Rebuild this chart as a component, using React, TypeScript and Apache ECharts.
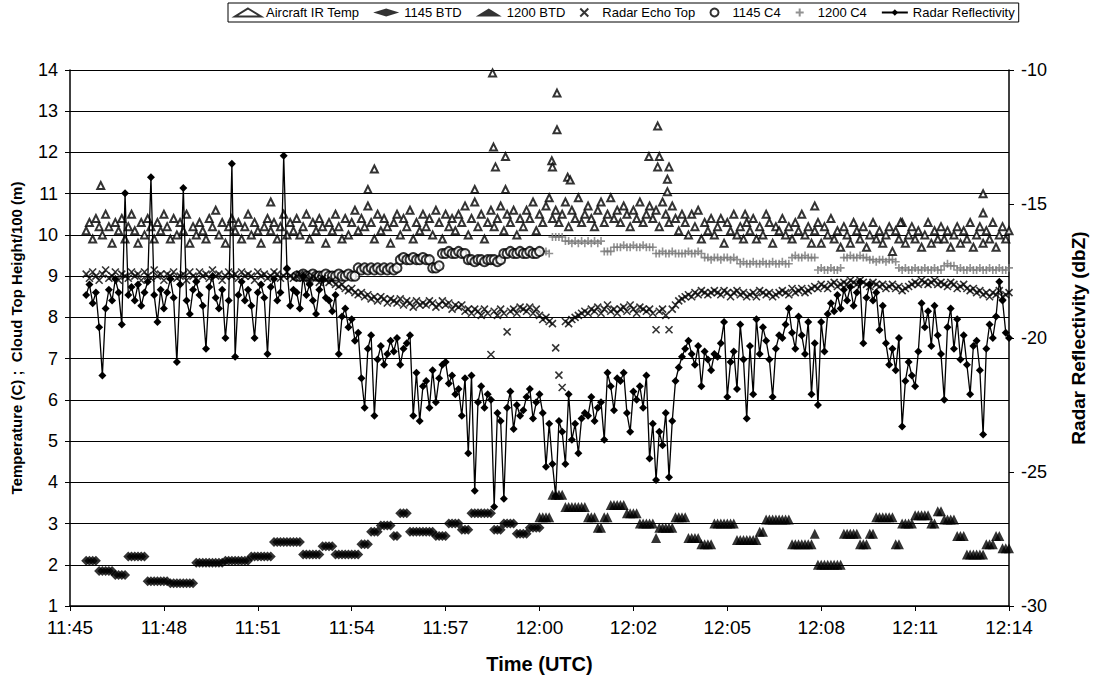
import React, { useEffect, useRef } from "react";
import * as echarts from "echarts";

// time in minutes after 11:45 UTC, sampled every STEP minutes
const STEP = 0.1;

// Radar Reflectivity (dbZ), from t = 0.5
const REFL_START = 0.5;
const REFLECTIVITY = [
  -18.4, -18.0, -18.7, -18.3, -19.6,
  -21.4, -18.9, -18.2, -18.6, -17.8, -18.3, -19.5, -14.6, -18.4, -18.1,
  -18.6, -18.0, -18.8, -18.3, -17.9, -14.0, -18.4, -19.4, -18.2, -18.9,
  -18.3, -17.8, -18.5, -20.9, -18.0, -14.4, -18.6, -19.1, -18.2, -17.9,
  -18.4, -18.8, -20.4, -18.1, -17.7, -18.5, -18.9, -18.2, -20.0, -18.6,
  -13.5, -20.7, -18.4, -17.9, -18.6, -18.2, -18.8, -20.0, -18.3, -18.0,
  -18.5, -20.6, -18.1, -17.8, -18.6, -18.3, -13.2, -17.4, -18.8, -18.2,
  -18.3, -18.9, -17.7, -18.4, -18.0, -18.6, -19.1, -18.2, -17.8, -18.5,
  -18.6, -19.0, -18.4, -20.6, -19.2, -18.9, -19.6, -19.3, -20.1, -19.8,
  -21.5, -22.6, -20.4, -19.9, -22.9, -20.8, -20.3, -21.0, -20.6, -20.1,
  -20.5, -20.0, -21.0, -20.4, -20.2, -19.9, -22.9, -21.3, -23.1, -21.8,
  -21.6, -22.6, -21.2, -22.4, -21.5, -21.0, -20.9, -21.7, -21.4, -22.1,
  -21.9, -22.9, -21.5, -24.3, -21.4, -25.7, -22.4, -21.8, -22.6, -22.1,
  -22.3, -26.3, -22.8, -23.1, -26.0, -22.6, -22.0, -23.4, -22.5, -22.9,
  -22.7, -22.2, -21.9, -23.0, -22.4, -22.1, -22.8, -24.8, -23.2, -24.7,
  -25.9, -23.1, -23.5, -24.7, -22.1, -23.8, -23.2, -24.3, -23.0, -22.8,
  -22.9, -22.2, -23.1, -22.6, -22.4, -23.8, -21.3, -21.8, -22.7, -21.5,
  -21.6, -21.3, -22.8, -23.5, -22.0, -22.3, -21.8, -22.6, -21.4, -24.5,
  -23.2, -25.3, -23.5, -24.0, -22.8, -25.2, -23.1, -21.6, -21.1, -20.7,
  -20.4, -20.1, -20.6, -21.0, -20.3, -21.8, -20.5, -20.8, -21.2, -20.6,
  -20.7, -20.2, -19.4, -22.2, -20.9, -20.5, -21.9, -19.5, -20.8, -23.0,
  -20.3, -22.1, -19.3, -20.6, -19.6, -20.1, -20.8, -22.2, -20.4, -19.9,
  -20.0, -19.5, -18.9, -19.8, -20.4, -19.2, -19.9, -20.6, -19.4, -22.1,
  -20.2, -22.5, -19.4, -20.5, -19.1, -18.7, -19.0, -18.4, -18.9, -18.2,
  -18.6, -18.1, -18.8, -18.3, -17.9, -20.2, -18.5, -18.0, -18.6, -18.3,
  -19.7, -18.8, -20.2, -21.0, -20.4, -21.2, -20.0, -23.3, -21.6, -20.9,
  -21.4, -21.8, -20.5, -18.7, -19.6, -19.0, -20.3, -18.8, -19.9, -20.6,
  -22.3, -19.6, -18.9, -20.4, -19.3, -20.8, -19.9, -21.0, -22.1, -20.3,
  -20.1, -21.2, -23.6, -20.4, -19.5, -20.0, -19.2, -17.9, -18.6, -19.8,
  -20.0,
];

// Radar Echo Top (cloud top height / 100 m), from t = 0.5
const ECHO_START = 0.5;
const ECHO_TOP = [
  9.05, 8.95, 9.1, 9.0, 8.9,
  9.05, 9.15, 8.95, 9.0, 9.1, 8.9, 9.05, 9.0, 8.95, 9.1,
  9.0, 9.05, 8.9, 9.1, 9.0, 8.95, 9.15, 9.0, 9.05, 8.9,
  9.05, 9.0, 9.1, 8.95, 9.0, 9.05, 8.9, 9.1, 9.0, 8.95,
  9.1, 9.0, 9.05, 8.95, 9.15, 9.0, 9.05, 8.9, 9.0, 9.1,
  9.0, 9.05, 8.95, 9.1, 9.0, 9.05, 9.0, 8.9, 9.1, 9.0,
  9.05, 8.95, 9.0, 9.1, 9.05, 8.95, 9.0, 9.1, 9.0, 8.95,
  9.0, 9.05, 8.95, 9.0, 8.9, 9.0, 8.95, 8.85, 8.95, 8.9,
  8.85, 8.9, 8.8, 8.75, 8.8, 8.7, 8.65, 8.7, 8.6, 8.55,
  8.6, 8.5, 8.55, 8.45, 8.5, 8.4, 8.5, 8.45, 8.35, 8.45,
  8.4, 8.35, 8.45, 8.3, 8.4, 8.35, 8.25, 8.4, 8.3, 8.35,
  8.3, 8.4, 8.35, 8.25, 8.3, 8.4, 8.3, 8.35, 8.2, 8.3,
  8.25, 8.3, 8.15, 8.2, 8.1, 8.2, 8.15, 8.05, 8.2, 8.1,
  7.1, 8.15, 8.05, 8.2, 8.1, 7.65, 8.15, 8.2, 8.1, 8.25,
  8.2, 8.15, 8.25, 8.1, 8.2, 8.05, 7.95, 8.0, 7.9, 7.85,
  7.26, 6.6, 6.3, 7.9, 7.85, 7.95, 8.0, 8.05, 8.1, 8.15,
  8.1, 8.2, 8.15, 8.25, 8.1, 8.2, 8.3, 8.15, 8.2, 8.1,
  8.2, 8.25, 8.15, 8.3, 8.2, 8.1, 8.25, 8.2, 8.15, 8.2,
  8.1, 7.7, 8.15, 8.2, 8.05, 7.7, 8.2, 8.3, 8.4, 8.45,
  8.5, 8.55, 8.5, 8.6, 8.55, 8.65, 8.6, 8.55, 8.6, 8.65,
  8.6, 8.55, 8.65, 8.6, 8.5, 8.6, 8.65, 8.55, 8.6, 8.5,
  8.55, 8.6, 8.5, 8.65, 8.6, 8.55, 8.6, 8.5, 8.55, 8.6,
  8.65, 8.6, 8.55, 8.7, 8.6, 8.65, 8.7, 8.6, 8.65, 8.7,
  8.75, 8.7, 8.8, 8.75, 8.7, 8.8, 8.85, 8.75, 8.8, 8.85,
  8.8, 8.9, 8.85, 8.8, 8.9, 8.85, 8.8, 8.75, 8.85, 8.8,
  8.75, 8.8, 8.7, 8.75, 8.8, 8.7, 8.75, 8.65, 8.7, 8.75,
  8.8, 8.85, 8.8, 8.9, 8.85, 8.8, 8.85, 8.9, 8.8, 8.85,
  8.8, 8.75, 8.85, 8.8, 8.7, 8.75, 8.8, 8.7, 8.65, 8.7,
  8.6, 8.65, 8.55, 8.6, 8.5, 8.6, 8.55, 8.65, 8.5, 8.55,
  8.6,
];

// Aircraft IR Temp (C), from t = 0.5
const IR_START = 0.5;
const IR_TEMP = [
  10.1, 10.3, 9.9, 10.4, 10.2,
  10.0, 10.5, 10.2, 9.8, 10.3, 10.1, 10.4, 9.9, 10.2, 10.5,
  10.1, 9.8, 10.3, 10.0, 10.4, 10.2, 9.9, 10.3, 10.1, 10.5,
  10.2, 9.9, 10.4, 10.0, 10.3, 10.1, 10.5, 9.8, 10.2, 10.0,
  10.3, 10.1, 9.9, 10.4, 10.2, 10.6, 10.0, 10.3, 9.8, 10.2,
  10.4, 10.1, 10.3, 9.9, 10.2, 10.5, 10.0, 10.3, 10.1, 9.8,
  10.2, 10.4, 10.1, 10.3, 9.9, 10.2, 10.5, 10.0, 10.3, 10.1,
  10.4, 10.0, 10.2, 10.5, 9.9, 10.3, 10.1, 10.4, 10.2, 9.8,
  10.3, 10.1, 10.5, 10.2, 9.9, 10.4, 10.0, 10.3, 10.6, 10.1,
  10.4, 10.2, 10.7, 10.3, 9.9, 10.5, 10.1, 10.4, 10.2, 9.8,
  10.3, 10.5, 10.0, 10.4, 10.2, 10.6, 9.9, 10.3, 10.1, 10.5,
  10.2, 10.4, 10.0, 10.6, 10.3, 9.9, 10.5, 10.2, 10.4, 10.1,
  10.5, 10.3, 10.7, 10.0, 10.4, 10.8, 10.2, 10.5, 9.9, 10.3,
  10.6, 10.2, 10.4, 10.7, 10.1, 10.5, 10.3, 10.6, 10.0, 10.4,
  10.2, 10.6, 10.4, 10.8, 10.1, 10.5, 10.3, 10.7, 10.9, 10.4,
  10.6, 10.3, 10.5, 10.8, 10.2, 10.6, 10.4, 10.9, 10.3, 10.5,
  10.7, 10.4, 10.2, 10.6, 10.8, 10.3, 10.5, 10.9, 10.4, 10.6,
  10.3, 10.7, 10.5, 10.2, 10.6, 10.4, 10.8, 10.3, 10.5, 10.7,
  10.4, 10.6, 10.2, 10.8, 10.5, 10.3, 10.7, 10.4, 10.1, 10.5,
  10.3, 10.0, 10.5, 10.2, 10.6, 9.9, 10.3, 10.1, 10.4, 10.0,
  10.2, 10.4, 9.8, 10.3, 10.1, 10.5, 10.0, 10.2, 9.9, 10.3,
  10.1, 10.4, 9.9, 10.2, 10.0, 10.5, 10.3, 9.8, 10.2, 10.1,
  10.4, 10.0, 10.2, 9.9, 10.3, 10.1, 10.5, 10.0, 10.2, 9.8,
  10.1, 10.3, 9.8, 10.2, 10.0, 10.4, 9.9, 10.1, 9.7, 10.2,
  10.0, 9.8, 10.3, 10.1, 9.9, 10.2, 9.7, 10.0, 10.3, 9.9,
  10.1, 9.8, 10.0, 10.2, 9.6, 10.1, 9.9, 10.3, 9.8, 10.0,
  10.2, 9.9, 10.1, 9.7, 10.0, 10.3, 9.8, 10.1, 9.9, 10.2,
  9.9, 10.1, 9.7, 10.0, 10.2, 9.8, 10.1, 9.9, 10.3, 9.7,
  10.0, 10.2, 9.8, 10.1, 9.9, 10.3, 9.7, 10.0, 10.2, 9.9,
  10.1,
];

// Isolated Aircraft IR Temp readings: [minutes after 11:45, C]
const IR_OUTLIERS = [
  [0.95, 11.2], [6.2, 10.8], [9.2, 11.1], [9.4, 11.6], [12.5, 11.1],
  [13.05, 13.93], [13.08, 12.13], [13.14, 11.65], [13.45, 11.9], [13.45, 11.1],
  [14.88, 11.8], [14.9, 11.65], [15.04, 13.44], [15.04, 12.55], [15.37, 11.4],
  [15.45, 11.33], [17.88, 11.9], [18.15, 12.64], [18.2, 11.9], [18.15, 11.65],
  [18.5, 11.65], [18.45, 11.35], [18.45, 11.05], [20.85, 10.5], [23.0, 10.7],
  [25.65, 10.3], [28.2, 11.0], [28.2, 10.53],
];

// 1145 BTD, from t = 0.5
const BTD1145_START = 0.5;
const BTD_1145 = [
  2.1, 2.1, 2.1, 2.1, 1.85,
  1.85, 1.85, 1.85, 1.85, 1.75, 1.75, 1.75, 1.75, 2.2, 2.2,
  2.2, 2.2, 2.2, 2.2, 1.6, 1.6, 1.6, 1.6, 1.6, 1.6,
  1.6, 1.55, 1.55, 1.55, 1.55, 1.55, 1.55, 1.55, 1.55, 2.05,
  2.05, 2.05, 2.05, 2.05, 2.05, 2.05, 2.05, 2.05, 2.1, 2.1,
  2.1, 2.1, 2.1, 2.1, 2.1, 2.1, 2.2, 2.2, 2.2, 2.2,
  2.2, 2.2, 2.2, 2.55, 2.55, 2.55, 2.55, 2.55, 2.55, 2.55,
  2.55, 2.55, 2.25, 2.25, 2.25, 2.25, 2.25, 2.25, 2.45, 2.45,
  2.45, 2.45, 2.25, 2.25, 2.25, 2.25, 2.25, 2.25, 2.25, 2.25,
  2.5, 2.5, 2.5, 2.8, 2.8, 2.8, 2.95, 2.95, 2.95, 2.95,
  2.7, 2.7, 3.25, 3.25, 3.25, 2.8, 2.8, 2.8, 2.8, 2.8,
  2.8, 2.8, 2.8, 2.7, 2.7, 2.7, 2.7, 3.0, 3.0, 3.0,
  3.0, 2.85, 2.85, 2.85, 3.25, 3.25, 3.25, 3.25, 3.25, 3.25,
  3.25, 2.85, 2.85, 2.85, 3.0, 3.0, 3.0, 3.0, 2.75, 2.75,
  2.75, 2.75, 2.9, 2.9, 2.9, 2.9,
];

// 1200 BTD, from t = 14.5
const BTD1200_START = 14.5;
const BTD_1200 = [
  3.15, 3.15, 3.15, 3.15, 3.7,
  3.7, 3.7, 3.7, 3.4, 3.4, 3.4, 3.4, 3.4, 3.4, 3.4,
  3.15, 3.15, 3.15, 2.9, 2.9, 3.15, 3.15, 3.45, 3.45, 3.45,
  3.45, 3.45, 3.25, 3.25, 3.25, 3.25, 3.0, 3.0, 3.0, 3.0,
  3.0, 2.65, 2.9, 2.9, 2.9, 2.9, 2.9, 3.15, 3.15, 3.15,
  3.15, 2.65, 2.65, 2.65, 2.65, 2.5, 2.5, 2.5, 2.5, 3.0,
  3.0, 3.0, 3.0, 3.0, 3.0, 3.0, 2.6, 2.6, 2.6, 2.6,
  2.6, 2.6, 2.6, 2.8, 2.8, 3.1, 3.1, 3.1, 3.1, 3.1,
  3.1, 3.1, 3.1, 2.5, 2.5, 2.5, 2.5, 2.5, 2.5, 2.5,
  2.75, 2.0, 2.0, 2.0, 2.0, 2.0, 2.0, 2.0, 2.0, 2.75,
  2.75, 2.75, 2.75, 2.75, 2.5, 2.5, 2.5, 2.75, 2.75, 3.15,
  3.15, 3.15, 3.15, 3.15, 3.15, 2.5, 2.5, 3.0, 3.0, 3.0,
  3.0, 3.2, 3.2, 3.2, 3.2, 3.2, 3.0, 3.0, 3.3, 3.3,
  3.1, 3.1, 3.1, 3.1, 2.7, 2.7, 2.7, 2.25, 2.25, 2.25,
  2.25, 2.25, 2.25, 2.5, 2.5, 2.5, 2.7, 2.7, 2.4, 2.4,
  2.4,
];

// 1145 C4, from t = 7.0
const C4_1145_START = 7.0;
const C4_1145 = [
  9.0, 9.0, 9.05, 9.0, 9.0, 9.05, 9.0, 9.0, 9.0, 9.05,
  9.0, 9.0, 9.0, 9.05, 9.0, 9.0, 9.05, 9.0, 9.0, 9.2,
  9.15, 9.2, 9.15, 9.2, 9.15, 9.2, 9.15, 9.2, 9.15, 9.2,
  9.15, 9.2, 9.4, 9.45, 9.4, 9.4, 9.45, 9.4, 9.4, 9.45,
  9.4, 9.4, 9.2, 9.2, 9.25, 9.55, 9.55, 9.6, 9.55, 9.55,
  9.6, 9.55, 9.55, 9.4, 9.4, 9.35, 9.4, 9.4, 9.35, 9.4,
  9.4, 9.4, 9.35, 9.4, 9.55, 9.55, 9.6, 9.55, 9.55, 9.6,
  9.55, 9.55, 9.6, 9.55, 9.55, 9.6,
];

// 1200 C4, from t = 14.5
const C4_1200_START = 14.5;
const C4_1200 = [
  9.6, 9.6, 9.6, 9.55, 9.95,
  9.95, 9.95, 9.95, 9.85, 9.85, 9.8, 9.85, 9.8, 9.85, 9.8,
  9.85, 9.8, 9.85, 9.8, 9.85, 9.6, 9.6, 9.6, 9.7, 9.7,
  9.7, 9.75, 9.7, 9.7, 9.75, 9.7, 9.7, 9.75, 9.7, 9.7,
  9.7, 9.55, 9.55, 9.6, 9.55, 9.55, 9.6, 9.55, 9.55, 9.55,
  9.55, 9.6, 9.55, 9.55, 9.6, 9.55, 9.45, 9.45, 9.4, 9.45,
  9.45, 9.4, 9.45, 9.45, 9.4, 9.45, 9.4, 9.3, 9.35, 9.3,
  9.3, 9.35, 9.3, 9.3, 9.35, 9.3, 9.3, 9.35, 9.3, 9.3,
  9.35, 9.3, 9.3, 9.45, 9.5, 9.45, 9.45, 9.5, 9.45, 9.45,
  9.45, 9.15, 9.2, 9.15, 9.15, 9.2, 9.15, 9.15, 9.2, 9.45,
  9.45, 9.5, 9.45, 9.45, 9.5, 9.45, 9.45, 9.4, 9.4, 9.35,
  9.4, 9.4, 9.35, 9.4, 9.4, 9.35, 9.2, 9.15, 9.2, 9.15,
  9.15, 9.2, 9.15, 9.15, 9.2, 9.15, 9.15, 9.2, 9.15, 9.15,
  9.25, 9.3, 9.25, 9.25, 9.15, 9.2, 9.15, 9.15, 9.2, 9.15,
  9.15, 9.2, 9.15, 9.15, 9.2, 9.15, 9.15, 9.2, 9.15, 9.15,
  9.2,
];

// Axes
const X_MIN = 0;
const X_MAX = 29;
const X_INTERVAL = 2.9;
const LEFT_MIN = 1;
const LEFT_MAX = 14;
const RIGHT_MIN = -30;
const RIGHT_MAX = -10;

const LEGEND = [
  "Aircraft IR Temp",
  "1145 BTD",
  "1200 BTD",
  "Radar Echo Top",
  "1145 C4",
  "1200 C4",
  "Radar Reflectivity",
];

const X_PATH = "path://M0,0L10,10M10,0L0,10";
const PLUS_PATH = "path://M5,0L5,10M0,5L10,5";

function toPoints(start: number, values: number[]) {
  return values.map((v, i) => [+(start + i * STEP).toFixed(2), v]);
}

function fmtTime(v: number) {
  const total = Math.round(45 + v);
  const h = 11 + Math.floor(total / 60);
  const m = total % 60;
  return `${h}:${m < 10 ? "0" + m : m}`;
}

const FONT = "Arial, 'Liberation Sans', sans-serif";

export default function App() {
  const ref = useRef<HTMLDivElement>(null);
  useEffect(() => {
    if (!ref.current) return;
    document.body.style.margin = "0";
    const chart = echarts.init(ref.current, undefined, { renderer: "svg" });
    const option: any = {
      animation: false,
      backgroundColor: "#fff",
      textStyle: { fontFamily: FONT, color: "#000" },
      legend: {
        data: LEGEND,
        left: 228,
        top: 3,
        itemGap: 14,
        itemWidth: 26,
        itemHeight: 8,
        borderColor: "#000",
        borderWidth: 1,
        padding: [3, 4, 3, 6],
        textStyle: { fontSize: 13, fontFamily: FONT, color: "#000" },
      },
      grid: { left: 70, right: 76, top: 70, bottom: 83 },
      xAxis: {
        type: "value",
        min: X_MIN,
        max: X_MAX,
        interval: X_INTERVAL,
        name: "Time (UTC)",
        nameLocation: "middle",
        nameGap: 48,
        nameTextStyle: { fontSize: 20, fontWeight: "bold", fontFamily: FONT, color: "#000" },
        axisLine: { lineStyle: { color: "#000", width: 1.5 } },
        axisTick: { show: true, length: 5, lineStyle: { color: "#000" } },
        axisLabel: { fontSize: 19, color: "#000", margin: 12, formatter: fmtTime, fontFamily: FONT },
        splitLine: { show: false },
      },
      yAxis: [
        {
          type: "value",
          min: LEFT_MIN,
          max: LEFT_MAX,
          interval: 1,
          name: "Temperature (C) ;  Cloud Top Height/100 (m)",
          nameLocation: "middle",
          nameRotate: 90,
          nameGap: 46,
          nameTextStyle: { fontSize: 15, fontWeight: "bold", fontFamily: FONT, color: "#000" },
          axisLine: { show: true, lineStyle: { color: "#000", width: 1.5 } },
          axisTick: { show: true, length: 5, lineStyle: { color: "#000" } },
          axisLabel: { fontSize: 18, color: "#000", margin: 12, fontFamily: FONT },
          splitLine: { show: true, lineStyle: { color: "#000", width: 1.2 } },
        },
        {
          type: "value",
          min: RIGHT_MIN,
          max: RIGHT_MAX,
          interval: 5,
          position: "right",
          name: "Radar Reflectivity (dbZ)",
          nameLocation: "middle",
          nameRotate: 90,
          nameGap: 60,
          nameTextStyle: { fontSize: 19, fontWeight: "bold", fontFamily: FONT, color: "#000" },
          axisLine: { show: true, lineStyle: { color: "#000", width: 1.5 } },
          axisTick: { show: true, length: 5, lineStyle: { color: "#000" } },
          axisLabel: { fontSize: 18, color: "#000", margin: 12, fontFamily: FONT },
          splitLine: { show: false },
        },
      ],
      series: [
        {
          name: "Aircraft IR Temp",
          type: "scatter",
          symbol: "emptyTriangle",
          symbolSize: 7,
          itemStyle: { color: "#000", borderWidth: 1.3 },
          data: toPoints(IR_START, IR_TEMP).concat(IR_OUTLIERS),
          z: 3,
        },
        {
          name: "1145 BTD",
          type: "scatter",
          symbol: "diamond",
          symbolSize: 10,
          itemStyle: { color: "#000" },
          data: toPoints(BTD1145_START, BTD_1145),
          z: 3,
        },
        {
          name: "1200 BTD",
          type: "scatter",
          symbol: "triangle",
          symbolSize: 10,
          itemStyle: { color: "#000" },
          data: toPoints(BTD1200_START, BTD_1200),
          z: 3,
        },
        {
          name: "Radar Echo Top",
          type: "scatter",
          symbol: X_PATH,
          symbolSize: 7,
          itemStyle: { color: "#000", borderColor: "#000", borderWidth: 1.6 },
          data: toPoints(ECHO_START, ECHO_TOP),
          z: 4,
        },
        {
          name: "1145 C4",
          type: "scatter",
          symbol: "emptyCircle",
          symbolSize: 9,
          itemStyle: { color: "#000", borderWidth: 2 },
          data: toPoints(C4_1145_START, C4_1145),
          z: 3,
        },
        {
          name: "1200 C4",
          type: "scatter",
          symbol: PLUS_PATH,
          symbolSize: 8,
          itemStyle: { color: "#777", borderColor: "#777", borderWidth: 1.6 },
          data: toPoints(C4_1200_START, C4_1200),
          z: 2,
        },
        {
          name: "Radar Reflectivity",
          type: "line",
          yAxisIndex: 1,
          symbol: "diamond",
          symbolSize: 8,
          showSymbol: true,
          lineStyle: { color: "#000", width: 1.3 },
          itemStyle: { color: "#000" },
          data: toPoints(REFL_START, REFLECTIVITY),
          z: 5,
        },
      ],
    };
    chart.setOption(option);
    return () => chart.dispose();
  }, []);
  return <div ref={ref} style={{ width: 1096, height: 689 }} />;
}
